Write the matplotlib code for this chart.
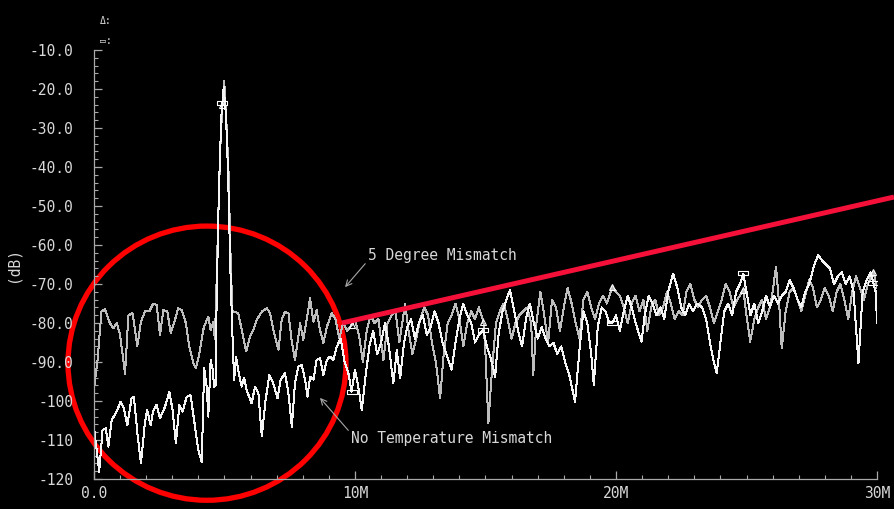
import numpy as np
import matplotlib.pyplot as plt
from matplotlib.patches import Ellipse
from matplotlib.path import Path


# -----------------------------
# Spectrum data (frequency in MHz, level in dB)
# -----------------------------
FREQ_5DEG = [
    0.0, 0.13, 0.29, 0.42, 0.61, 0.74, 0.87, 1.0, 1.19, 1.32, 1.48, 1.66, 1.79, 1.95,
    2.12, 2.27, 2.4, 2.53, 2.66, 2.81, 2.94, 3.07, 3.23, 3.36, 3.52, 3.65, 3.81, 3.9,
    4.04, 4.21, 4.38, 4.47, 4.57, 4.63, 4.68, 4.76, 4.84, 4.92, 4.99, 5.07, 5.15, 5.23,
    5.3, 5.37, 5.53, 5.66, 5.83, 5.98, 6.11, 6.24, 6.43, 6.62, 6.75, 6.87, 7.07, 7.19,
    7.32, 7.45, 7.58, 7.7, 7.9, 8.02, 8.15, 8.28, 8.41, 8.53, 8.66, 8.79, 8.92, 9.11,
    9.25, 9.4, 9.55, 9.7, 9.87, 10.0, 10.15, 10.3, 10.45, 10.6, 10.75, 10.9, 11.09,
    11.25, 11.4, 11.55, 11.7, 11.92, 12.05, 12.2, 12.35, 12.5, 12.65, 12.8, 12.95,
    13.1, 13.26, 13.4, 13.55, 13.7, 13.85, 14.0, 14.15, 14.3, 14.45, 14.6, 14.75,
    14.92, 15.0, 15.11, 15.25, 15.4, 15.55, 15.7, 15.85, 16.0, 16.15, 16.3, 16.45,
    16.6, 16.75, 16.83, 16.95, 17.1, 17.25, 17.4, 17.55, 17.7, 17.85, 18.0, 18.15,
    18.3, 18.45, 18.6, 18.75, 18.9, 19.05, 19.2, 19.35, 19.5, 19.65, 19.86, 20.0,
    20.15, 20.3, 20.45, 20.6, 20.75, 20.9, 21.05, 21.2, 21.35, 21.5, 21.65, 21.8,
    21.95, 22.1, 22.25, 22.4, 22.55, 22.7, 22.85, 23.0, 23.15, 23.3, 23.45, 23.6,
    23.75, 23.9, 24.05, 24.2, 24.35, 24.5, 24.65, 24.88, 25.0, 25.14, 25.3, 25.45,
    25.6, 25.75, 25.9, 26.0, 26.13, 26.25, 26.35, 26.5, 26.65, 26.8, 26.95, 27.1,
    27.25, 27.4, 27.55, 27.7, 27.85, 28.0, 28.15, 28.3, 28.45, 28.6, 28.75, 28.9,
    29.05, 29.2, 29.35, 29.5, 29.65, 29.86, 30.0,
]
DB_5DEG = [
    -97, -90, -77, -76.5, -80, -81.4, -80, -83, -93, -78, -77.5, -86, -80, -77,
    -77, -75, -75.4, -83, -76.7, -77, -82.6, -80, -76.2, -76.7, -80, -86, -90.3, -91.6,
    -87.8, -81, -78.4, -81.8, -79.7, -84, -74, -53, -35, -24, -18, -28, -40, -62,
    -77, -77.1, -77.5, -81.8, -87.3, -83.5, -81.8, -79.2, -77.1, -76.2, -77.5, -81.8, -86.9, -79.2,
    -77.1, -77.5, -84.8, -89.5, -80.1, -84.4, -79, -73.7, -79.7, -76.7, -81.8, -85.2, -81, -77.5,
    -79, -84, -80, -82, -80.5, -79, -83, -90, -82, -78, -80, -79, -89.5,
    -80, -78, -77, -85, -75, -82, -88, -84, -79, -76, -78, -85,
    -90, -99.3, -88, -80, -78, -75, -79, -86, -80, -77, -79, -76,
    -79.7, -88, -105.7, -92, -80, -77, -75, -79, -84, -80, -78, -77,
    -76, -80, -93.3, -80, -72, -78, -85, -74, -76, -82, -76, -71,
    -75, -80, -84, -74, -72, -76, -79, -75, -73, -75, -70.7, -72,
    -73, -76, -80, -75, -73, -77, -74, -82, -76, -74, -78, -76,
    -72, -75, -79, -77, -78, -72, -70, -74, -76, -74, -73, -76,
    -80, -77, -74, -70, -72, -76, -74, -71.5, -78, -84.8, -79, -76,
    -74, -79, -76, -72, -65.6, -75, -86.5, -77, -72, -71, -74, -77,
    -73, -69, -71, -76, -74, -71, -73, -77, -72, -70, -74, -79,
    -72, -68, -71, -74, -70, -66.8, -71,
]

FREQ_NOTEMP = [
    0.0, 0.2, 0.33, 0.45, 0.55, 0.68, 0.87, 1.02, 1.13, 1.28, 1.44, 1.53, 1.66, 1.8,
    1.95, 2.04, 2.17, 2.27, 2.4, 2.53, 2.72, 2.89, 3.01, 3.14, 3.27, 3.4, 3.55, 3.7,
    3.87, 4.0, 4.13, 4.22, 4.32, 4.38, 4.47, 4.55, 4.6, 4.66, 4.7, 4.79, 4.88, 4.97,
    5.06, 5.14, 5.22, 5.3, 5.37, 5.44, 5.55, 5.66, 5.75, 5.85, 6.04, 6.17, 6.3, 6.43,
    6.57, 6.72, 6.87, 7.03, 7.15, 7.32, 7.45, 7.58, 7.7, 7.83, 7.96, 8.09, 8.18, 8.28,
    8.41, 8.53, 8.66, 8.79, 8.92, 9.04, 9.17, 9.3, 9.45, 9.6, 9.75, 9.87, 10.0, 10.12,
    10.26, 10.4, 10.55, 10.7, 10.85, 11.0, 11.15, 11.3, 11.47, 11.6, 11.73, 11.88,
    12.0, 12.15, 12.3, 12.45, 12.6, 12.75, 12.9, 13.05, 13.2, 13.35, 13.5, 13.7,
    13.85, 14.0, 14.15, 14.3, 14.45, 14.6, 14.75, 14.92, 15.05, 15.2, 15.37, 15.5,
    15.65, 15.8, 15.94, 16.1, 16.25, 16.4, 16.55, 16.7, 16.85, 17.0, 17.15, 17.3,
    17.45, 17.6, 17.75, 17.9, 18.05, 18.2, 18.43, 18.6, 18.75, 18.9, 19.05, 19.15,
    19.3, 19.45, 19.6, 19.75, 19.86, 20.0, 20.15, 20.3, 20.45, 20.6, 20.75, 20.98,
    21.1, 21.25, 21.4, 21.55, 21.7, 21.85, 22.0, 22.19, 22.35, 22.5, 22.65, 22.8,
    22.95, 23.1, 23.3, 23.45, 23.6, 23.75, 23.86, 24.0, 24.15, 24.3, 24.45, 24.6,
    24.75, 24.88, 25.0, 25.15, 25.3, 25.45, 25.6, 25.75, 25.9, 26.05, 26.2, 26.35,
    26.5, 26.65, 26.8, 26.95, 27.1, 27.25, 27.4, 27.6, 27.75, 27.9, 28.05, 28.2,
    28.35, 28.5, 28.65, 28.8, 28.95, 29.1, 29.29, 29.45, 29.6, 29.75, 29.86, 29.95,
    30.0,
]
DB_NOTEMP = [
    -106.6, -118.1, -107.4, -107, -111.7, -104.9, -102.7, -100.2, -101.5, -106.2, -99.3, -98.9, -108, -116,
    -105.7, -102.3, -106.2, -102.5, -101, -104.4, -101.5, -97.6, -102.3, -110.8, -101, -102.7, -98.9, -98.5,
    -106.6, -112.6, -115.6, -91.6, -96.3, -104, -89.5, -92, -96.3, -96, -74, -45, -27, -19.5,
    -27, -42, -65, -82, -94.6, -88.6, -93, -96.3, -94, -97.2, -100.6, -96.3, -98, -109.1,
    -100, -93.3, -95.5, -99.3, -94.6, -92.9, -98, -106.6, -95.5, -91.2, -90.8, -94.6, -98.9, -93.8,
    -94.5, -89.5, -89, -93.3, -89.5, -88.6, -89.5, -86.1, -84, -90, -93, -97.6, -92, -96,
    -102.3, -94, -86, -82, -88, -85, -80, -86, -95.5, -87, -94.2, -85,
    -81, -79, -84, -80, -78, -83, -81, -77, -80, -85, -88, -92,
    -85, -79, -75, -78, -80, -85, -83, -81.8, -86, -89, -93.8, -83,
    -77, -74, -71.5, -77, -82, -86, -79, -75, -80, -84, -81, -84,
    -86, -85, -88, -86, -90, -93, -100.2, -87, -77, -80, -88, -95.9,
    -81, -76, -77, -80, -79.9, -78, -82, -77, -73, -76, -80, -84.8,
    -78, -73, -75, -78, -76, -79, -72, -67.3, -71, -76, -78, -75,
    -77, -75, -76, -79, -85, -90, -92.9, -85, -77, -75, -78, -72,
    -70, -67.3, -72, -78, -75, -80, -77, -73, -76, -73, -75, -73,
    -72, -69, -71, -74, -76, -72, -70, -65, -62.6, -64, -65, -66,
    -70, -68, -67, -70, -68, -72, -90.3, -72, -69, -67, -69.8, -72,
    -80,
]

# marker positions (MHz) placed by the simulator every ~5M
MARKER_FREQ = [4.92, 9.87, 14.92, 19.86, 24.88, 29.86]

Y_TICKS = [-10, -20, -30, -40, -50, -60, -70, -80, -90, -100, -110, -120]
Y_TICK_LABELS = ["-10.0", "-20.0", "-30.0", "-40.0", "-50.0", "-60.0",
                 "-70.0", "-80.0", "-90.0", "-100", "-110", "-120"]
X_TICKS = [0, 10, 20, 30]
X_TICK_LABELS = ["0.0", "10M", "20M", "30M"]

# -----------------------------
# Style
# -----------------------------
FONT = ["DejaVu Sans Mono", "DejaVu Sans"]
TXT = "#d8d8d8"
AXC = "#a8a8a8"
plt.rcParams["font.family"] = FONT

fig = plt.figure(figsize=(8.94, 5.09), dpi=100, facecolor="black")
ax = fig.add_axes([0.1051, 0.0589, 0.981 - 0.1051, 0.9018 - 0.0589])
ax.set_facecolor("black")

ax.plot(FREQ_5DEG, DB_5DEG, color="#bdbdbd", lw=0.72, antialiased=False)
ax.plot(FREQ_NOTEMP, DB_NOTEMP, color="#f4f4f4", lw=0.72, antialiased=False)

# simulator markers
rect = Path([(-1, -0.45), (1, -0.45), (1, 0.45), (-1, 0.45), (-1, -0.45)])
ya = np.interp(MARKER_FREQ, FREQ_5DEG, DB_5DEG)
yb = np.interp(MARKER_FREQ, FREQ_NOTEMP, DB_NOTEMP)
ax.plot(MARKER_FREQ, ya, ls="none", marker="^", ms=4, mfc="none", mec="white", mew=0.8)
ax.plot(MARKER_FREQ, yb, ls="none", marker=rect, ms=7, mfc="none", mec="white", mew=0.8)

ax.set_xlim(0, 30)
ax.set_ylim(-120, -10)

for s in ["top", "right"]:
    ax.spines[s].set_visible(False)
for s in ["left", "bottom"]:
    ax.spines[s].set_color(AXC)
    ax.spines[s].set_linewidth(0.9)

ax.set_yticks(Y_TICKS)
ax.set_yticklabels(Y_TICK_LABELS)
ax.set_yticks(np.arange(-120, -9, 2), minor=True)
ax.set_xticks(X_TICKS)
ax.set_xticklabels(X_TICK_LABELS)
ax.set_xticks(np.arange(0, 31, 1), minor=True)
ax.tick_params(which="both", direction="in", colors=AXC, labelcolor=TXT, labelsize=10.5)
ax.tick_params(which="major", length=6, width=0.9)
ax.tick_params(which="minor", length=3, width=0.8)
ax.tick_params(axis="y", pad=15)
ax.tick_params(axis="x", pad=5)

fig.text(0.014, 0.48, "(dB)", rotation=90, color=TXT, fontsize=10.5, va="center", ha="center")
fig.text(0.112, 0.958, "Δ:", color=TXT, fontsize=7, ha="left", va="center")
fig.text(0.112, 0.92, "▭:", color=TXT, fontsize=7, ha="left", va="center")

# annotations
ax.annotate("5 Degree Mismatch", xy=(9.62, -70.8), xytext=(10.5, -62.8),
            color=TXT, fontsize=10.5, va="center", ha="left",
            arrowprops=dict(arrowstyle="->", color=AXC, lw=0.8, shrinkA=0, shrinkB=0,
                            relpos=(0, 0.2)))
ax.annotate("No Temperature Mismatch", xy=(8.66, -99.2), xytext=(9.85, -109.5),
            color=TXT, fontsize=10.5, va="center", ha="left",
            arrowprops=dict(arrowstyle="->", color=AXC, lw=0.8, shrinkA=0, shrinkB=0,
                            relpos=(0, 0.8)))

# red highlight
ax.add_patch(Ellipse((4.33, -90.3), 10.65, 70.3, fill=False, ec="#ff0000", lw=3.8, clip_on=False))
ax.plot([9.5, 30.65], [-80, -47.7], color="#f5103a", lw=3.6, clip_on=False,
        solid_capstyle="butt")

fig.savefig("out.png", dpi=100, facecolor="black")
